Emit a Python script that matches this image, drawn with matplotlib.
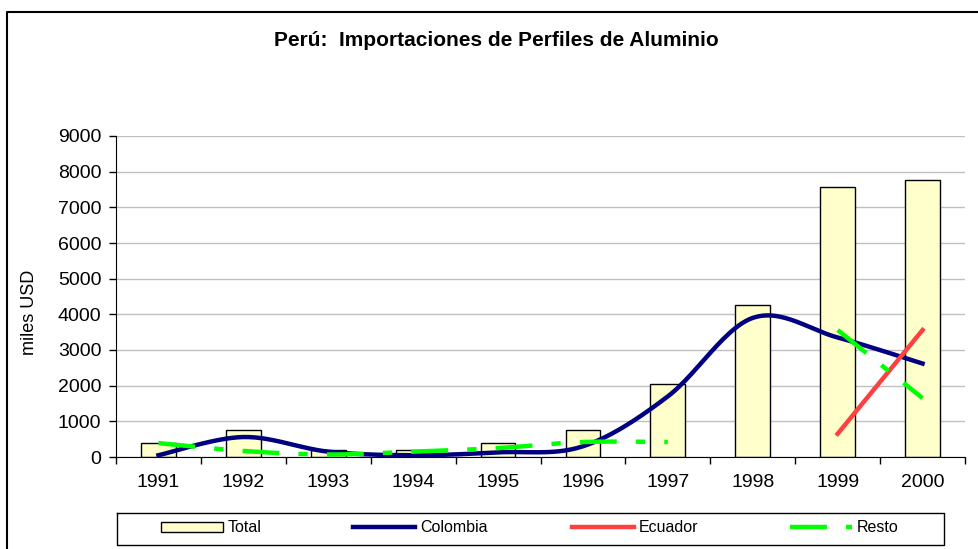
import numpy as np
import matplotlib
matplotlib.use("Agg")
import matplotlib.pyplot as plt
from matplotlib.lines import Line2D
from matplotlib import font_manager

plt.rcParams['font.family'] = ['Liberation Sans', 'DejaVu Sans']

years = ["1991", "1992", "1993", "1994", "1995", "1996", "1997", "1998", "1999", "2000"]
total = [380, 750, 200, 200, 380, 750, 2050, 4270, 7570, 7780]
colombia = [50, 560, 150, 50, 130, 300, 1700, 3900, 3350, 2620]
ecuador = [None, None, None, None, None, None, None, None, 650, 3560]
resto = [390, 170, 70, 150, 250, 420, 420, None, 3560, 1650]
series_names = ["Total", "Colombia", "Ecuador", "Resto"]

W, H = 979, 549


def catmull(xs, ys, n=30):
    xs = np.asarray(xs, float)
    ys = np.asarray(ys, float)
    if len(xs) < 3:
        return xs, ys
    P = np.column_stack([xs, ys])
    P = np.vstack([P[0], P, P[-1]])
    ox, oy = [], []
    for i in range(1, len(P) - 2):
        p0, p1, p2, p3 = P[i - 1], P[i], P[i + 1], P[i + 2]
        c1 = p1 + (p2 - p0) / 6.0
        c2 = p2 - (p3 - p1) / 6.0
        t = np.linspace(0, 1, n)[:, None]
        b = (1 - t) ** 3 * p1 + 3 * (1 - t) ** 2 * t * c1 + 3 * (1 - t) * t ** 2 * c2 + t ** 3 * p2
        ox.extend(b[:, 0]); oy.extend(b[:, 1])
    return np.array(ox), np.array(oy)


def segments(vals):
    segs, cur = [], []
    for i, v in enumerate(vals):
        if v is None:
            if cur:
                segs.append(cur); cur = []
        else:
            cur.append((i, v))
    if cur:
        segs.append(cur)
    return segs


fig = plt.figure(figsize=(W / 100, H / 100), dpi=100)
ax = fig.add_axes([116 / W, 1 - 457 / H, (965 - 116) / W, (457 - 136) / H])

x = np.arange(len(years))
resto_dash = (8.3, 4.3, 2.1, 4.3)

bars = ax.bar(x, total, width=0.41, color="#FFFFCC", edgecolor="black", linewidth=1.0, zorder=2)

cx, cy = catmull(x, colombia)
ln_col, = ax.plot(cx, cy, color="#000080", lw=3.2, zorder=3)

ln_ecu = None
for seg in segments(ecuador):
    sx, sy = zip(*seg)
    ln_ecu, = ax.plot(sx, sy, color="#FF4040", lw=3.2, zorder=3)

ln_res = None
for seg in segments(resto):
    sx, sy = zip(*seg)
    rx, ry = catmull(sx, sy)
    ln_res, = ax.plot(rx, ry, color="#00FF00", lw=3.2, dashes=resto_dash, zorder=4)

ax.set_xlim(-0.5, 9.5)
ax.set_ylim(0, 9000)
ax.set_yticks(np.arange(0, 9001, 1000))
ax.set_xticks(x)
ax.set_xticklabels(years, fontsize=14)
ax.set_xticks(np.arange(-0.5, 10, 1), minor=True)
ax.tick_params(axis="x", which="major", length=0, pad=12)
ax.tick_params(axis="x", which="minor", length=5, direction="out", width=1)
ax.tick_params(axis="y", labelsize=14, length=5, direction="out", pad=5.5, width=1)
ax.yaxis.grid(True, color="#C0C0C0", lw=1)
ax.set_axisbelow(True)
for s in ["top", "right"]:
    ax.spines[s].set_visible(False)

fig.text(30 / W, 1 - 312 / H, "miles USD", rotation=90, ha="center", va="center", fontsize=13)

fig.text(496 / W, 1 - 46 / H, "Perú:  Importaciones de Perfiles de Aluminio",
         ha="center", va="baseline", fontsize=15, fontweight="bold")

# legend
avail = {f.name for f in font_manager.fontManager.ttflist}
if "Liberation Sans Narrow" in avail:
    leg_font = {"family": ["Liberation Sans Narrow", "Liberation Sans"], "size": 13}
else:
    leg_font = {"family": ["Liberation Sans", "DejaVu Sans"], "size": 11.5}

fig.add_artist(Line2D([117 / W, 944 / W, 944 / W, 117 / W, 117 / W],
                      [1 - 512.5 / H, 1 - 512.5 / H, 1 - 544.5 / H, 1 - 544.5 / H, 1 - 512.5 / H],
                      transform=fig.transFigure, color="black", lw=1))

handles = [bars, ln_col, ln_ecu, ln_res]
starts = [161, 353, 572, 790]
fs_px = leg_font["size"] * 100 / 72
for h, name, sx in zip(handles, series_names, starts):
    lg = fig.legend([h], [name], loc="center left", bbox_to_anchor=(sx / W, 1 - 528 / H),
                    frameon=False, borderpad=0, borderaxespad=0, prop=leg_font,
                    handlelength=62 / fs_px, handletextpad=5 / fs_px, handleheight=0.55)

# outer frame
fig.add_artist(Line2D([7 / W, 7 / W, 1.0], [0.0, 1 - 12 / H, 1 - 12 / H],
                      transform=fig.transFigure, color="black", lw=1.5))

fig.savefig("out.png", dpi=100)
